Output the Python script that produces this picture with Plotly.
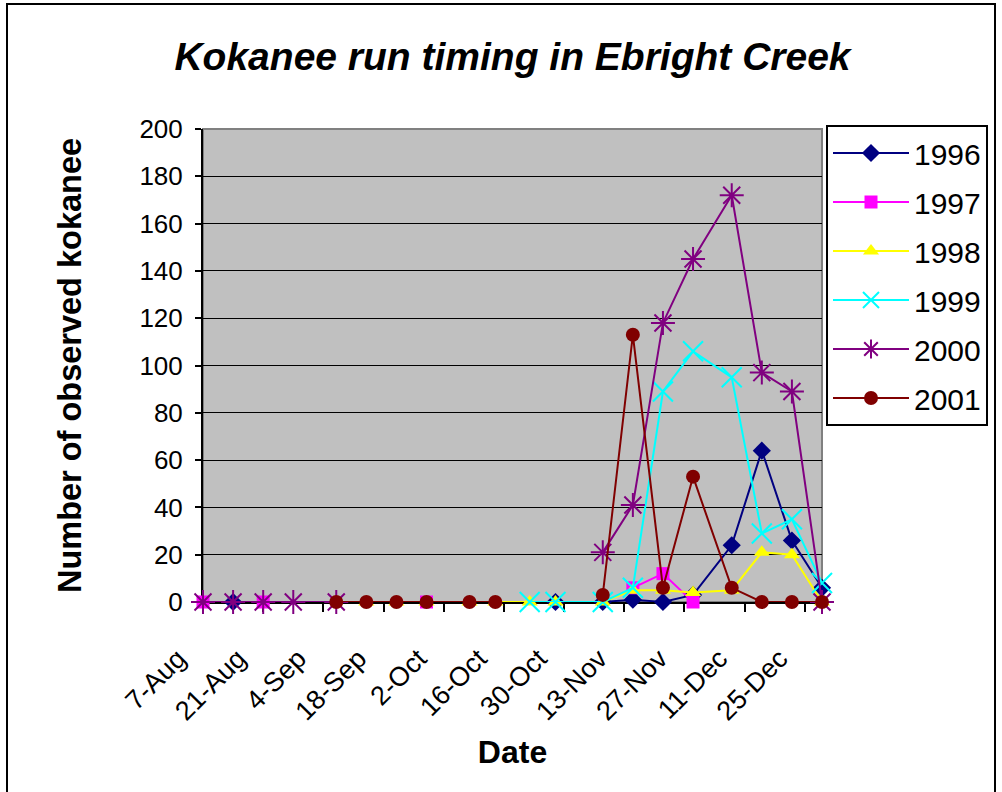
import plotly.graph_objects as go

# Survey dates on a common season calendar, counts per year (None = no survey that date)
survey_dates = ["2001-08-07", "2001-08-14", "2001-08-21", "2001-08-28", "2001-09-07",
                "2001-09-14", "2001-09-21", "2001-09-28", "2001-10-08", "2001-10-14",
                "2001-10-22", "2001-10-28", "2001-11-08", "2001-11-15", "2001-11-22",
                "2001-11-29", "2001-12-08", "2001-12-15", "2001-12-22", "2001-12-29"]

counts_1996 = [None, 0, None, None, None, None, None, None, None, None,
               None, 0, 0, 1, 0, 3, 24, 64, 26, 6]
counts_1997 = [0, None, 0, None, None, None, None, 0, None, None,
               None, None, None, 6, 12, 0, None, None, None, None]
counts_1998 = [None, None, None, None, None, 0, 0, 0, 0, 0,
               0, 0, 0, 5, 5, 4, 5, 21, 20, 0]
counts_1999 = [None, None, None, None, None, None, None, None, None, None,
               0, 0, 0, 6, 89, 106, 95, 29, 35, 8]
counts_2000 = [0, 0, 0, 0, 0, None, None, None, None, None,
               None, None, 21, 41, 118, 145, 172, 97, 89, 0]
counts_2001 = [None, None, None, None, 0, 0, 0, 0, 0, 0,
               None, None, 3, 113, 6, 53, 6, 0, 0, 0]

years = ["1996", "1997", "1998", "1999", "2000", "2001"]

tick_dates = ["2001-08-07", "2001-08-21", "2001-09-04", "2001-09-18", "2001-10-02",
              "2001-10-16", "2001-10-30", "2001-11-13", "2001-11-27", "2001-12-11",
              "2001-12-25"]
tick_labels = ["7-Aug", "21-Aug", "4-Sep", "18-Sep", "2-Oct", "16-Oct", "30-Oct",
               "13-Nov", "27-Nov", "11-Dec", "25-Dec"]

y_ticks = [0, 20, 40, 60, 80, 100, 120, 140, 160, 180, 200]

# Excel-like marker styles per series
styles = {
    "1996": dict(color="#000080", symbol="diamond", size=14, lw=0),
    "1997": dict(color="#FF00FF", symbol="square", size=13, lw=0),
    "1998": dict(color="#FFFF00", symbol="triangle-up", size=14, lw=0),
    "1999": dict(color="#00FFFF", symbol="x-thin-open", size=20, lw=2),
    "2000": dict(color="#800080", symbol="asterisk-open", size=20, lw=2),
    "2001": dict(color="#800000", symbol="circle", size=14, lw=0),
}

series = [counts_1996, counts_1997, counts_1998, counts_1999, counts_2000, counts_2001]

FONT = "Arial, Liberation Sans, sans-serif"

fig = go.Figure()

for year, values in zip(years, series):
    st = styles[year]
    fig.add_trace(go.Scatter(
        x=survey_dates,
        y=values,
        name=year,
        legendgroup=year,
        mode="lines+markers",
        connectgaps=False,
        cliponaxis=False,
        line=dict(color=st["color"], width=2),
        marker=dict(color=st["color"], symbol=st["symbol"], size=st["size"],
                    line=dict(color=st["color"], width=st["lw"])),
    ))

# plot area border (grey) and outer chart frame (black)
fig.add_shape(type="rect", xref="paper", yref="paper", x0=0, x1=1, y0=0, y1=1,
              line=dict(color="#808080", width=2), layer="below")
fig.add_shape(type="line", xref="paper", yref="paper", x0=0, x1=1, y0=1, y1=1,
              line=dict(color="#808080", width=2), layer="above")
fig.add_shape(type="rect", xref="paper", yref="paper",
              x0=(7 - 203) / 619, x1=(995 - 203) / 619,
              y0=(602 - 810) / 473, y1=(602 - 4) / 473,
              line=dict(color="black", width=2))

fig.update_layout(
    width=1002,
    height=792,
    margin=dict(l=203, r=180, t=129, b=190),
    paper_bgcolor="white",
    plot_bgcolor="#C0C0C0",
    font=dict(family=FONT, color="black"),
    title=dict(
        text="Kokanee run timing in Ebright Creek",
        font=dict(family=FONT, size=39, weight="bold", style="italic", color="black"),
        x=0.5, xref="paper", xanchor="center",
        y=1 - 56 / 792, yref="container", yanchor="middle",
    ),
    legend=dict(
        x=(826 - 203) / 619, xanchor="left",
        y=(602 - 125) / 473, yanchor="top",
        bgcolor="white",
        bordercolor="black",
        borderwidth=2,
        font=dict(family=FONT, size=30, color="black"),
        itemwidth=76,
        tracegroupgap=7,
    ),
    showlegend=True,
)

fig.update_xaxes(
    type="date",
    range=["2001-08-07", "2001-12-29"],
    tickmode="array",
    tickvals=tick_dates,
    ticktext=tick_labels,
    tickangle=-45,
    tickfont=dict(family=FONT, size=27, color="black"),
    ticklabelshift=-25,
    ticklabelstandoff=20,
    ticks="outside",
    ticklen=8,
    tickcolor="black",
    tickwidth=2,
    showline=True,
    linecolor="black",
    linewidth=2,
    showgrid=False,
    zeroline=False,
    layer="below traces",
    title=dict(text="Date", font=dict(family=FONT, size=32, weight="bold"), standoff=15),
)

fig.update_yaxes(
    range=[0, 200],
    tickmode="array",
    tickvals=y_ticks,
    tickfont=dict(family=FONT, size=26, color="black"),
    ticks="outside",
    ticklen=6,
    tickcolor="black",
    tickwidth=2,
    ticklabelstandoff=7,
    showline=True,
    linecolor="black",
    linewidth=2,
    showgrid=True,
    gridcolor="black",
    gridwidth=1,
    zeroline=False,
    layer="below traces",
    title=dict(text="Number of observed kokanee",
               font=dict(family=FONT, size=32.5, weight="bold"), standoff=48),
)

# drop the browser's default page margin so the figure sits at the window origin
fig.write_html("out.html", config={"displayModeBar": False},
               post_script="document.body.style.margin='0';")
